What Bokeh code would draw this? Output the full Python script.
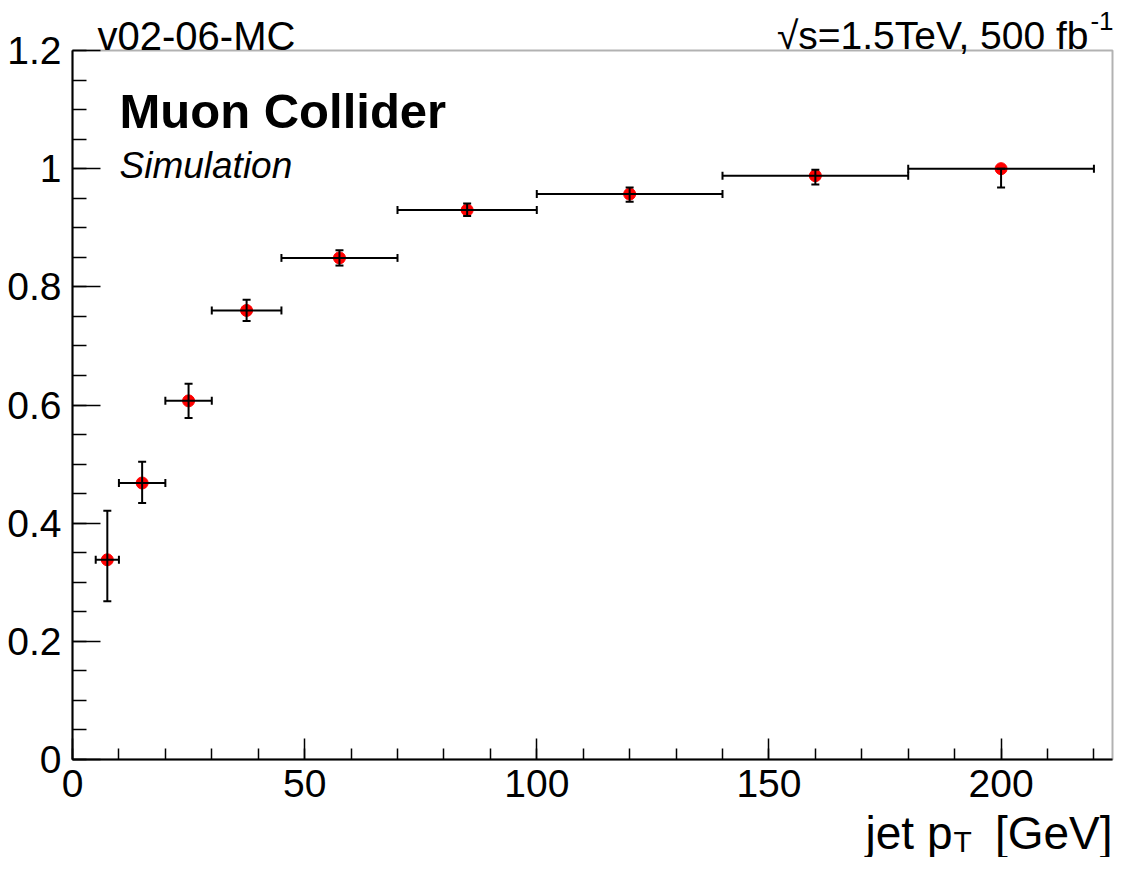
import numpy as np
from bokeh.plotting import figure
from bokeh.models import (Range1d, FixedTicker, Label, Whisker, TeeHead,
                          ColumnDataSource, BoxAnnotation)
from bokeh.embed import file_html
from bokeh.resources import INLINE

# ---- data ----
pt_center = [7.5, 15, 25, 37.5, 57.5, 85, 120, 160, 200]
pt_low = [5, 10, 20, 30, 45, 70, 100, 140, 180]
pt_high = [10, 20, 30, 45, 70, 100, 140, 180, 220]
eff = [0.338, 0.468, 0.607, 0.760, 0.849, 0.930, 0.957, 0.988, 1.000]
eff_low = [0.268, 0.434, 0.578, 0.742, 0.836, 0.920, 0.944, 0.973, 0.968]
eff_high = [0.421, 0.504, 0.636, 0.778, 0.862, 0.941, 0.968, 0.998, 1.000]

xticks = [0, 50, 100, 150, 200]
xtick_labels = ["0", "50", "100", "150", "200"]
yticks = [0, 0.2, 0.4, 0.6, 0.8, 1, 1.2]
ytick_labels = ["0", "0.2", "0.4", "0.6", "0.8", "1", "1.2"]

XMIN, XMAX = 0, 224
YMIN, YMAX = 0, 1.2

M = 8                 # page margin
W, H = 1114, 857      # canvas size
# frame box geometry in page pixels
FL, FR, FT, FB = 80, 1120, 58, 767
def dx(px):
    return XMIN + (px - FL) * (XMAX - XMIN) / (FR - FL)
def dy(py):
    return YMIN + (FB - py) * (YMAX - YMIN) / (FB - FT)

FONT = "Liberation Sans"

p = figure(width=W, height=H,
           x_range=Range1d(dx(M), dx(M + W)), y_range=Range1d(dy(M + H), dy(M)),
           output_backend="svg", toolbar_location=None,
           min_border=0, min_border_left=0, min_border_right=0,
           min_border_top=0, min_border_bottom=0)
p.border_fill_color = "white"
p.background_fill_color = "white"
p.xgrid.visible = False
p.ygrid.visible = False
p.outline_line_color = None

p.xaxis.fixed_location = YMIN
p.yaxis.fixed_location = XMIN
p.xaxis.bounds = (XMIN, XMAX)
p.yaxis.bounds = (YMIN, YMAX)

p.xaxis.ticker = FixedTicker(ticks=xticks, minor_ticks=list(np.arange(0, 225, 10)))
p.yaxis.ticker = FixedTicker(ticks=yticks, minor_ticks=list(np.round(np.arange(0, 1.201, 0.05), 3)))
p.xaxis.major_label_overrides = {t: l for t, l in zip(xticks, xtick_labels)}
p.yaxis.major_label_overrides = {t: l for t, l in zip(yticks, ytick_labels)}

for ax in (p.xaxis[0], p.yaxis[0]):
    ax.axis_line_color = "black"
    ax.axis_line_width = 2
    ax.major_tick_line_color = "black"
    ax.minor_tick_line_color = "black"
    ax.major_tick_line_width = 1.5
    ax.minor_tick_line_width = 1.5
    ax.major_tick_out = 0
    ax.minor_tick_out = 0
    ax.major_label_text_font = FONT
    ax.major_label_text_font_size = "39px"
    ax.major_label_text_color = "black"

p.xaxis.major_label_standoff = 10
p.yaxis.major_label_standoff = 11
p.xaxis.major_tick_in = 21
p.xaxis.minor_tick_in = 11
p.yaxis.major_tick_in = 28
p.yaxis.minor_tick_in = 14

# frame box
p.add_layout(BoxAnnotation(left=XMIN, right=XMAX, bottom=YMIN, top=YMAX,
                           fill_color=None, fill_alpha=0,
                           line_color="black", line_width=2))

src = ColumnDataSource(dict(x=pt_center, xlo=pt_low, xhi=pt_high,
                            y=eff, ylo=eff_low, yhi=eff_high))

p.scatter("x", "y", source=src, size=12, fill_color="#ff0000", line_color="#ff0000")

vw = Whisker(source=src, base="x", lower="ylo", upper="yhi", dimension="height",
             line_color="black", line_width=2, level="overlay",
             lower_head=TeeHead(size=8, line_width=2, line_color="black"),
             upper_head=TeeHead(size=8, line_width=2, line_color="black"))
hw = Whisker(source=src, base="y", lower="xlo", upper="xhi", dimension="width",
             line_color="black", line_width=2, level="overlay",
             lower_head=TeeHead(size=8, line_width=2, line_color="black"),
             upper_head=TeeHead(size=8, line_width=2, line_color="black"))
p.add_layout(vw)
p.add_layout(hw)

def lab(text, px, py, size, align="left", style="normal"):
    p.add_layout(Label(x=dx(px), y=dy(py), text=text, text_font=FONT,
                       text_font_size=f"{size}px", text_align=align,
                       text_baseline="alphabetic", text_font_style=style,
                       text_color="black"))

lab("v02-06-MC", 105, 43, 40)
lab("\u221as=1.5TeV, 500 fb", 1096, 43, 39, align="right")
lab("-1", 1121, 28, 26, align="right")
lab("Muon Collider", 127, 118, 49, style="bold")
lab("Simulation", 127, 173, 37, style="italic")
lab("jet p", 960, 840, 46, align="right")
lab("T", 961, 849, 30)
lab("[GeV]", 1120, 840, 46, align="right")

open("out.html", "w").write(file_html(p, INLINE))
